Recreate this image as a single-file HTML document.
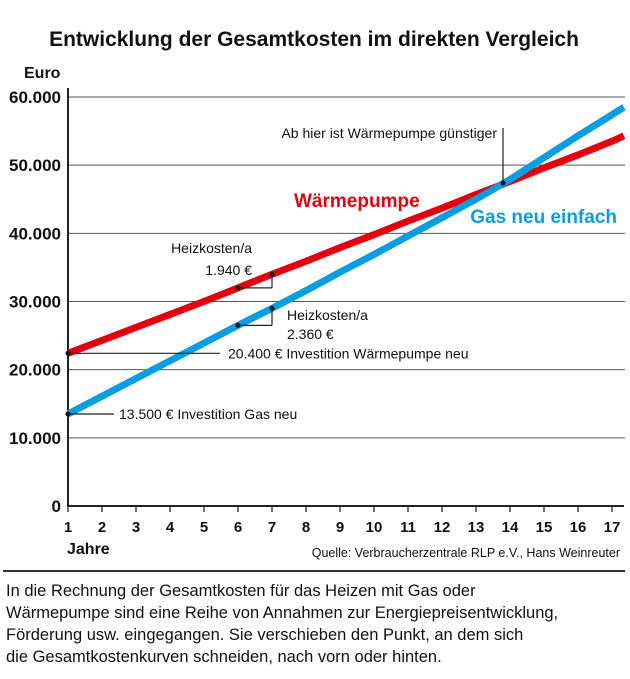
<!DOCTYPE html>
<html><head><meta charset="utf-8">
<style>
body{margin:0;background:#fff;}
svg{display:block;font-family:"Liberation Sans Narrow","Liberation Sans",sans-serif;}
</style></head>
<body>
<svg id="chart" width="630" height="679" viewBox="0 0 630 679">
<text x="314" y="46" text-anchor="middle" font-size="21" font-weight="bold" fill="#111">Entwicklung der Gesamtkosten im direkten Vergleich</text>
<text x="24" y="78" font-size="16" font-weight="bold" fill="#111">Euro</text>
<g id="grid"></g>
<g id="axes"></g>
<g id="lines"></g>
<g id="annot"></g>
<text x="67" y="554" font-size="16" font-weight="bold" fill="#111">Jahre</text>
<text x="620" y="557" text-anchor="end" font-size="12.5" fill="#111">Quelle: Verbraucherzentrale RLP e.V., Hans Weinreuter</text>
<rect x="3" y="570" width="622" height="2" fill="#333"/>
<g font-size="16.5" fill="#111">
<text x="6" y="596">In die Rechnung der Gesamtkosten für das Heizen mit Gas oder</text>
<text x="6" y="618">Wärmepumpe sind eine Reihe von Annahmen zur Energiepreisentwicklung,</text>
<text x="6" y="640">Förderung usw. eingegangen. Sie verschieben den Punkt, an dem sich</text>
<text x="6" y="662">die Gesamtkostenkurven schneiden, nach vorn oder hinten.</text>
</g>
</svg>
<script>
const years=[1,2,3,4,5,6,7,8,9,10,11,12,13,14,15,16,17,17.35];
const heatPump=[22400,24300,26200,28100,30000,32000,34000,35900,37900,39800,41800,43700,45700,47600,49600,51500,53500,54300];
const gas=[13500,16100,18700,21300,23900,26500,29000,31600,34300,36900,39600,42300,45000,47900,51100,54300,57400,58500];
const yTicks=[0,10000,20000,30000,40000,50000,60000];
const yTickLabels=["0","10.000","20.000","30.000","40.000","50.000","60.000"];
const xTicks=[1,2,3,4,5,6,7,8,9,10,11,12,13,14,15,16,17];
const NS="http://www.w3.org/2000/svg";
function X(v){return 68+(v-1)*34;}
function Y(v){return 506-v*409/60000;}
function mk(tag,attrs,parent,txt){const e=document.createElementNS(NS,tag);for(const k in attrs)e.setAttribute(k,attrs[k]);if(txt!==undefined)e.textContent=txt;parent.appendChild(e);return e;}
const grid=document.getElementById('grid'),axes=document.getElementById('axes'),lines=document.getElementById('lines'),annot=document.getElementById('annot');
yTicks.forEach((t,i)=>{
  if(t>0){const g=mk('line',{x1:68,x2:625,y1:Y(t),y2:Y(t),stroke:'#555','stroke-width':1},grid);
  
  }
  const tl=mk('text',{x:61,y:Y(t)+6,'text-anchor':'end','font-size':17,'font-weight':'bold',fill:'#111'},axes,yTickLabels[i]);
  
  
});
xTicks.forEach(t=>{
  const tk=mk('line',{x1:X(t),x2:X(t),y1:506,y2:512,stroke:'#222','stroke-width':1.3},axes);
  
  
  const tl=mk('text',{x:X(t),y:532,'text-anchor':'middle','font-size':15,'font-weight':'bold',fill:'#111'},axes,String(t));
  
  
});
const ya=mk('line',{x1:68,x2:68,y1:88,y2:507,stroke:'#222','stroke-width':2},axes);


const xa=mk('line',{x1:67,x2:624,y1:506,y2:506,stroke:'#222','stroke-width':2},axes);


function pts(arr){return years.map((y,i)=>X(y)+','+Y(arr[i])).join(' ');}
const rl=mk('polyline',{points:pts(heatPump),fill:'none',stroke:'#e3000f','stroke-width':7},lines);


const bl=mk('polyline',{points:pts(gas),fill:'none',stroke:'#0a9ee0','stroke-width':7},lines);


function ln(x1,y1,x2,y2,name){const l=mk('line',{x1,y1,x2,y2,stroke:'#222','stroke-width':1.2},annot);}
function dot(x,y,name){const c=mk('circle',{cx:x,cy:y,r:2.5,fill:'#111'},annot);}
function tx(x,y,s,opt,name){const t=mk('text',Object.assign({x,y,'font-size':14,fill:'#111'},opt||{}),annot,s);}
dot(X(1),Y(heatPump[0]),'heat-pump-start-dot');
ln(X(1),Y(heatPump[0]),220,Y(heatPump[0]),'heat-pump-invest-leader');
tx(228,Y(heatPump[0])+5,'20.400 € Investition Wärmepumpe neu',{},'heat-pump-invest-label');
dot(X(1),Y(gas[0]),'gas-start-dot');
ln(X(1),Y(gas[0]),114,Y(gas[0]),'gas-invest-leader');
tx(119,Y(gas[0])+5,'13.500 € Investition Gas neu',{},'gas-invest-label');
dot(X(6),Y(heatPump[5]),'hp-bracket-dot');dot(X(7),Y(heatPump[6]),'hp-bracket-dot');
ln(X(6),Y(heatPump[5]),X(7),Y(heatPump[5]),'hp-bracket');ln(X(7),Y(heatPump[5]),X(7),Y(heatPump[6]),'hp-bracket');
tx(252,253,'Heizkosten/a',{'text-anchor':'end'},'hp-heating-cost-label');
tx(252,275,'1.940 €',{'text-anchor':'end'},'hp-heating-cost-value');
dot(X(6),Y(gas[5]),'gas-bracket-dot');dot(X(7),Y(gas[6]),'gas-bracket-dot');
ln(X(6),Y(gas[5]),X(7),Y(gas[5]),'gas-bracket');ln(X(7),Y(gas[5]),X(7),Y(gas[6]),'gas-bracket');
tx(287,320,'Heizkosten/a',{},'gas-heating-cost-label');
tx(287,339,'2.360 €',{},'gas-heating-cost-value');
ln(503,128,503,183,'crossover-leader');
dot(503,183,'crossover-dot');
tx(497,138,'Ab hier ist Wärmepumpe günstiger',{'text-anchor':'end'},'crossover-label');
tx(294,207,'Wärmepumpe',{'font-size':19,'font-weight':'bold',fill:'#e3000f'},'heat-pump-series-label');
tx(617,223,'Gas neu einfach',{'font-size':19,'font-weight':'bold',fill:'#0a9ee0','text-anchor':'end'},'gas-series-label');
</script>
</body></html>
